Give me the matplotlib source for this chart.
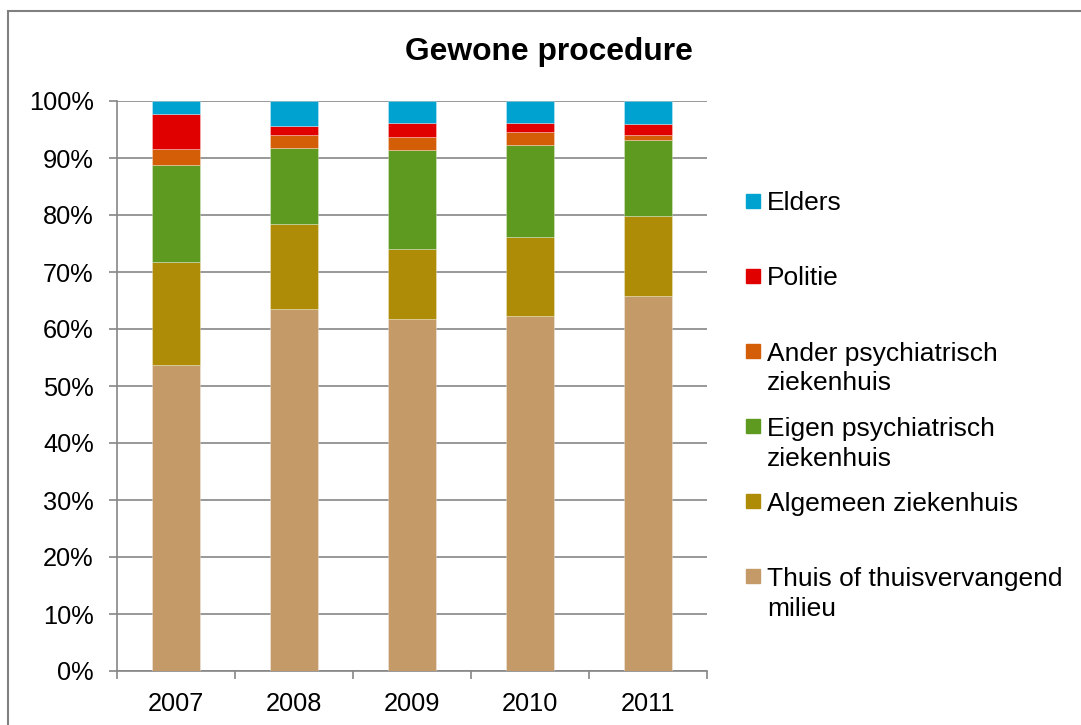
import matplotlib
matplotlib.use('Agg')
import matplotlib.pyplot as plt
from matplotlib.patches import Rectangle
from matplotlib.ticker import FuncFormatter
import numpy as np

plt.rcParams['font.family'] = ['Liberation Sans', 'DejaVu Sans']

# data (percentages)
years = ['2007', '2008', '2009', '2010', '2011']
thuis = [53.7, 63.5, 61.8, 62.3, 65.8]
algemeen = [18.0, 14.9, 12.2, 13.8, 14.0]
eigen = [17.1, 13.4, 17.4, 16.1, 13.3]
ander = [2.8, 2.2, 2.2, 2.4, 0.9]
politie = [6.1, 1.7, 2.5, 1.5, 1.9]
elders = [2.3, 4.3, 3.9, 3.9, 4.1]

series = [thuis, algemeen, eigen, ander, politie, elders]
labels = ['Thuis of thuisvervangend\nmilieu', 'Algemeen ziekenhuis',
          'Eigen psychiatrisch\nziekenhuis', 'Ander psychiatrisch\nziekenhuis',
          'Politie', 'Elders']
colors = ['#C39A68', '#AF8C07', '#5E9A1F', '#D45E07', '#E10000', '#00A3CF']

W, H = 1081, 725
fig = plt.figure(figsize=(W / 100, H / 100), dpi=100)
ax = fig.add_axes([117 / W, 1 - 671 / H, (707 - 117) / W, (671 - 101) / H])

grid_c = '#868686'
x = np.arange(len(years))
bottom = np.zeros(len(years))
for vals, col in zip(series, colors):
    ax.bar(x, vals, 0.4, bottom=bottom, color=col, edgecolor=(1, 1, 1, 0.35),
           linewidth=0.6, zorder=3)
    bottom += np.array(vals)

ax.set_xlim(-0.5, len(years) - 0.5)
ax.set_ylim(0, 100)
ax.set_yticks(range(0, 101, 10))
ax.yaxis.set_major_formatter(FuncFormatter(lambda v, p: f'{v:.0f}%'))
ax.yaxis.grid(True, color=grid_c, linewidth=1.2, zorder=0)

ax.set_xticks(np.arange(-0.5, len(years), 1.0))
ax.set_xticklabels([])
ax.set_xticks(x, minor=True)
ax.set_xticklabels(years, minor=True)
ax.tick_params(axis='x', which='major', length=5.5, width=1.2, color=grid_c,
               direction='out')
ax.tick_params(axis='x', which='minor', length=0, pad=15, labelsize=18.3)
ax.tick_params(axis='y', length=5.8, width=1.2, color=grid_c, pad=11,
               labelsize=18.3)

for s in ['top', 'right']:
    ax.spines[s].set_visible(False)
for s in ['left', 'bottom']:
    ax.spines[s].set_color(grid_c)
    ax.spines[s].set_linewidth(1.2)

fig.text(549 / W, 1 - 52 / H, 'Gewone procedure', ha='center', va='center',
         fontsize=22.9, fontweight='bold')

# legend, top entry first, each entry in an equal slot, marker on first line
leg_top = 201
leg_step = 75
line_px = 30
for i, (lab, col) in enumerate(zip(labels[::-1], colors[::-1])):
    yc = leg_top + i * leg_step
    fig.add_artist(Rectangle((746 / W, 1 - (yc + 7) / H), 14 / W, 14 / H,
                             transform=fig.transFigure, color=col))
    n_extra = lab.count('\n')
    base = yc + 9.5 + n_extra * line_px
    fig.text(767 / W, 1 - base / H, lab, ha='left', va='baseline',
             fontsize=19, linespacing=1.31)

# outer chart border
fig.add_artist(Rectangle((8 / W, -0.1), 2, 1.1 - 11 / H, transform=fig.transFigure,
                         fill=False, edgecolor='#808080', linewidth=1.5))

fig.savefig('out.png', dpi=100)
